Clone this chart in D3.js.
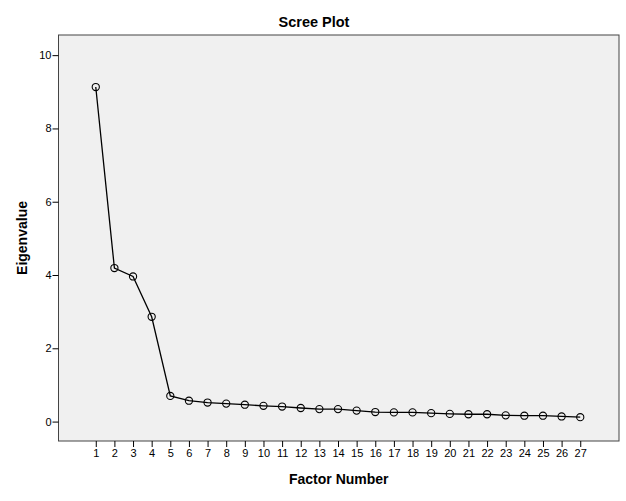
<!DOCTYPE html>
<html><head><meta charset="utf-8">
<script src="https://cdn.jsdelivr.net/npm/d3@7"></script>
<style>body{margin:0;background:#fff}svg{display:block}text{font-family:Arial,"Liberation Sans",sans-serif}</style>
</head><body>
<svg id="c" width="626" height="501"></svg>
<script>
const factors = d3.range(1, 28);
const eigenvalues = [9.13, 4.19, 3.96, 2.86, 0.70, 0.57, 0.52, 0.49, 0.46, 0.43, 0.41, 0.37, 0.34, 0.34, 0.30, 0.26, 0.25, 0.25, 0.23, 0.21, 0.20, 0.20, 0.17, 0.16, 0.16, 0.14, 0.12];
const yTicks = [0, 2, 4, 6, 8, 10];
const title = "Scree Plot", xTitle = "Factor Number", yTitle = "Eigenvalue";

const svg = d3.select("#c");
const L = 58.5, R = 619, T = 35, B = 441;
const x = d3.scaleLinear().domain([-1, 29.08]).range([L, R]);
const y = d3.scaleLinear().domain([-0.53, 10.55]).range([B, T]);

svg.append("rect").attr("x", L).attr("y", T).attr("width", R - L).attr("height", B - T)
  .attr("fill", "#f0f0f0").attr("stroke", "#444").attr("stroke-width", 1);

const xa = svg.append("g").attr("transform", `translate(0,${B})`)
  .call(d3.axisBottom(x).tickValues(factors).tickFormat(d3.format("d")).tickSize(6).tickSizeOuter(0));
xa.select(".domain").remove();
const ya = svg.append("g").attr("transform", `translate(${L},0)`)
  .call(d3.axisLeft(y).tickValues(yTicks).tickSize(6).tickSizeOuter(0));
ya.select(".domain").remove();
svg.selectAll(".tick text").attr("font-size", 11).attr("fill", "#000").attr("font-family", "Arial, 'Liberation Sans', sans-serif");
svg.selectAll(".tick line").attr("stroke", "#000");
xa.selectAll(".tick text").attr("dy", "0.75em").attr("y", 8);
ya.selectAll(".tick text").attr("x", -7);

const data = factors.map((f, i) => ({f, v: eigenvalues[i]}));
svg.append("path").datum(data)
  .attr("d", d3.line().x(d => x(d.f)).y(d => y(d.v)))
  .attr("fill", "none").attr("stroke", "#000").attr("stroke-width", 1.3);
svg.append("g").selectAll("circle").data(data).join("circle")
  .attr("cx", d => x(d.f)).attr("cy", d => y(d.v)).attr("r", 3.6)
  .attr("fill", "none").attr("stroke", "#000").attr("stroke-width", 1.1);

svg.append("text").attr("x", 314).attr("y", 27).attr("text-anchor", "middle")
  .attr("font-size", 14.5).attr("font-weight", "bold").text(title);
svg.append("text").attr("x", (L + R) / 2).attr("y", 484).attr("text-anchor", "middle")
  .attr("font-size", 14).attr("font-weight", "bold").text(xTitle);
svg.append("text").attr("transform", `translate(27,${(T + B) / 2}) rotate(-90)`).attr("text-anchor", "middle")
  .attr("font-size", 14).attr("font-weight", "bold").text(yTitle);
</script>
</body></html>
